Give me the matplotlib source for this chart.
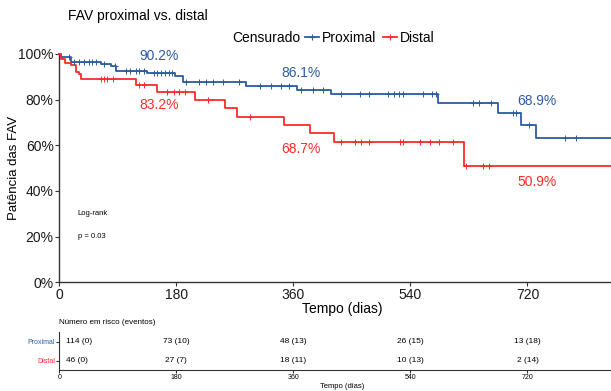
import numpy as np
import matplotlib
matplotlib.use("Agg")
import matplotlib.pyplot as plt
from matplotlib.lines import Line2D

plt.rcParams['font.family'] = ['Liberation Sans', 'DejaVu Sans']

# Kaplan-Meier steps (days, survival %)
prox_times = [3, 18, 64, 80, 87, 135, 178, 190, 287, 366, 418, 582, 674, 710, 733]
prox_surv = [98.5, 96.4, 95.5, 94.6, 92.5, 91.5, 90.2, 87.6, 86.1, 84.2, 82.3, 78.6, 74.0, 68.9, 63.3]
prox_cens = [15, 23, 31, 38, 46, 51, 56, 69, 85, 103, 108, 118, 123, 131, 146, 151, 156, 162,
             169, 174, 195, 215, 226, 236, 251, 277, 308, 326, 341, 354, 372, 390, 405, 433,
             462, 476, 505, 515, 522, 529, 559, 573, 580, 636, 646, 664, 698, 702, 722, 778, 794]

dist_times = [3, 8, 18, 26, 31, 33, 118, 150, 209, 255, 273, 345, 386, 423, 622]
dist_surv = [97.7, 95.8, 95.0, 92.0, 91.2, 88.8, 86.3, 83.2, 79.8, 76.1, 72.5, 68.7, 65.2, 61.3, 50.9]
dist_cens = [64, 69, 74, 82, 123, 131, 166, 176, 184, 193, 229, 293, 434, 454, 464, 476, 524,
             528, 555, 570, 584, 605, 625, 652, 661]

max_time = 870

# labels on the curves: (day, y %, text)
prox_notes = [(154, 99.0, "90.2%"), (371, 91.8, "86.1%"), (735, 79.3, "68.9%")]
dist_notes = [(154, 77.6, "83.2%"), (371, 58.3, "68.7%"), (735, 43.7, "50.9%")]

# risk table
risk_times = [0, 180, 360, 540, 720]
prox_n = [114, 73, 48, 26, 13]
prox_ev = [0, 10, 13, 15, 18]
dist_n = [46, 27, 18, 10, 2]
dist_ev = [0, 7, 11, 13, 14]

blue = "#2C5CA2"
red = "#FF2B2B"
W, H = 611, 391

fig = plt.figure(figsize=(W / 100, H / 100), dpi=100)

x0 = 59.3 / W
xw = (625 - 59.3) / W
ax = fig.add_axes([x0, 1 - 282.3 / H, xw, (282.3 - 53.8) / H])


def km(times, surv, cens, color):
    t = np.array([0] + times + [max_time])
    s = np.array([100] + surv + [surv[-1]]) / 100
    ax.step(t, s, where='post', color=color, lw=1.3, clip_on=False, zorder=3)
    c = np.array(cens)
    idx = np.searchsorted(t, c, side='right') - 1
    ax.plot(c, s[idx], ls='none', marker='+', ms=4, mew=0.7, color=color, zorder=4)


km(prox_times, prox_surv, prox_cens, blue)
km(dist_times, dist_surv, dist_cens, red)

for d, y, s in prox_notes:
    ax.text(d, y / 100, s, color=blue, fontsize=10, ha='center', va='center')
for d, y, s in dist_notes:
    ax.text(d, y / 100, s, color=red, fontsize=10, ha='center', va='center')

ax.text(28, 0.30, "Log-rank", fontsize=5.5, va='center')
ax.text(28, 0.20, "p = 0.03", fontsize=5.5, va='center')

ax.set_xlim(0, max_time)
ax.set_ylim(0, 1)
ax.set_xticks(risk_times)
ax.set_yticks([0, 0.2, 0.4, 0.6, 0.8, 1.0])
ax.set_yticklabels(["0%", "20%", "40%", "60%", "80%", "100%"])
ax.tick_params(labelsize=10, length=3, pad=1, color="#333333", labelcolor="#1a1a1a")
for sp in ['top', 'right']:
    ax.spines[sp].set_visible(False)
for sp in ['left', 'bottom']:
    ax.spines[sp].set_color("#333333")
    ax.spines[sp].set_linewidth(1.0)
ax.set_xlabel("Tempo (dias)", fontsize=10, labelpad=0)
ax.set_ylabel("Patência das FAV", fontsize=9.5)
ax.yaxis.set_label_coords((20 - 59.3) / 565.7, 0.5)

fig.text(68 / W, 1 - 16 / H, "FAV proximal vs. distal", fontsize=10, va='center')

# legend
fig.text(232 / W, 1 - 38 / H, "Censurado", fontsize=10, va='center')
handles = [Line2D([], [], color=blue, lw=1.3, marker='+', ms=4.5, mew=0.8),
           Line2D([], [], color=red, lw=1.3, marker='+', ms=4.5, mew=0.8)]
fig.legend(handles, ["Proximal", "Distal"], loc='center left', bbox_to_anchor=(305 / W, 1 - 38 / H),
           ncol=2, frameon=False, fontsize=10, handlelength=1.0, handletextpad=0.2,
           columnspacing=0.5, borderpad=0, borderaxespad=0)

# risk table
rt = fig.add_axes([x0, 1 - 370 / H, xw, 38 / H])
rt.set_xlim(0, max_time)
rt.set_ylim(0, 2)
for i, t in enumerate(risk_times):
    ha = 'left' if t == 0 else 'center'
    xt = 10 if t == 0 else t
    rt.text(xt, 1.5, f"{prox_n[i]} ({prox_ev[i]})", fontsize=6, ha=ha, va='center')
    rt.text(xt, 0.5, f"{dist_n[i]} ({dist_ev[i]})", fontsize=6, ha=ha, va='center')
rt.set_yticks([1.5, 0.5])
rt.set_yticklabels(["Proximal", "Distal"])
for lab, c in zip(rt.get_yticklabels(), [blue, red]):
    lab.set_color(c)
rt.set_xticks(risk_times)
rt.tick_params(labelsize=5, length=2, pad=1, color="#333333")
for sp in ['top', 'right']:
    rt.spines[sp].set_visible(False)
for sp in ['left', 'bottom']:
    rt.spines[sp].set_color("#333333")
rt.set_xlabel("Tempo (dias)", fontsize=5.5, labelpad=1)
fig.text(x0, 1 - 323 / H, "Número em risco (eventos)", fontsize=5.8, va='center')

fig.savefig("out.png", dpi=100)
